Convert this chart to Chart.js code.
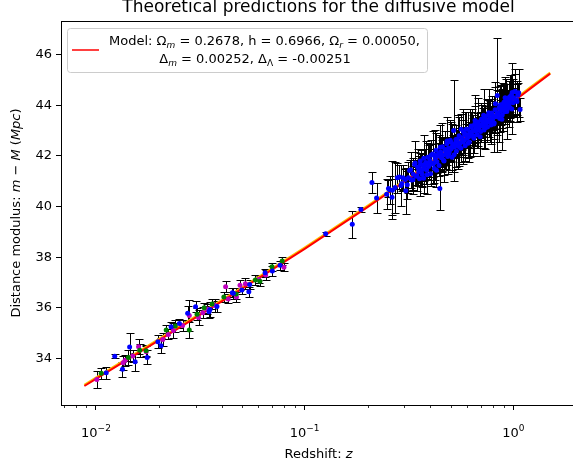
<!DOCTYPE html>
<html>
<head>
<meta charset="utf-8">
<script src="https://cdn.jsdelivr.net/npm/chart.js@4.4.1/dist/chart.umd.min.js"></script>
<style>
html, body { margin: 0; padding: 0; overflow: hidden; background: #fff; }
#wrap { position: relative; width: 576px; height: 465px; }
</style>
</head>
<body>
<div id="wrap"><canvas id="hubble" width="576" height="465"></canvas></div>
<script>
// model curve (red) and reference curve (yellow)
const modelZ  = [0.0088, 0.01, 0.02, 0.03, 0.05, 0.1, 0.2, 0.3, 0.4, 0.5, 0.6, 0.7, 0.8, 0.9, 1.0, 1.2, 1.5];
const modelMu = [32.91, 33.19, 34.71, 35.61, 36.75, 38.33, 39.98, 40.98, 41.71, 42.30, 42.78, 43.19, 43.55, 43.87, 44.15, 44.65, 45.25];
const refMu   = [32.95, 33.23, 34.75, 35.65, 36.79, 38.37, 40.02, 41.02, 41.75, 42.34, 42.82, 43.23, 43.59, 43.91, 44.19, 44.69, 45.29];

// low redshift supernovae, three colour groups
const blueLowZ   = [0.0112, 0.0123, 0.0134, 0.0145, 0.0154, 0.0176, 0.0198, 0.0205, 0.0229, 0.0251, 0.0275, 0.0300, 0.0348, 0.0352, 0.0380, 0.0450, 0.0455, 0.0500, 0.0540, 0.0545, 0.0646, 0.0700, 0.0762];
const blueLowMu  = [33.43, 34.09, 33.57, 34.45, 33.87, 34.04, 34.66, 34.50, 35.25, 35.38, 35.78, 36.04, 35.84, 35.93, 36.05, 36.59, 36.57, 36.70, 36.63, 36.92, 37.38, 37.45, 37.68];
const blueLowErr = [0.25, 0.08, 0.30, 0.55, 0.35, 0.28, 0.25, 0.30, 0.20, 0.18, 0.30, 0.22, 0.25, 0.30, 0.20, 0.18, 0.22, 0.15, 0.20, 0.18, 0.15, 0.20, 0.18];

const greenZ   = [0.0106, 0.0143, 0.0162, 0.0174, 0.0217, 0.0240, 0.0280, 0.0305, 0.0330, 0.0360, 0.0410, 0.0470, 0.0580, 0.0610, 0.0697, 0.0780];
const greenMu  = [33.41, 34.04, 34.32, 34.30, 35.12, 35.28, 35.12, 35.75, 36.00, 36.15, 36.43, 36.55, 37.10, 37.05, 37.62, 37.85];
const greenErr = [0.22, 0.30, 0.25, 0.22, 0.20, 0.25, 0.30, 0.25, 0.20, 0.18, 0.20, 0.22, 0.18, 0.20, 0.16, 0.15];

const magentaZ   = [0.0101, 0.0135, 0.0138, 0.0150, 0.0160, 0.0174, 0.0209, 0.0222, 0.0235, 0.0260, 0.0280, 0.0310, 0.0325, 0.0340, 0.0370, 0.0418, 0.0430, 0.0471, 0.0490, 0.0520, 0.0602, 0.0650, 0.0795];
const magentaMu  = [33.17, 33.83, 33.93, 34.10, 34.46, 34.26, 34.75, 34.95, 35.10, 35.30, 35.70, 35.62, 35.80, 35.95, 36.10, 36.83, 36.35, 36.43, 36.89, 36.95, 37.12, 37.30, 37.60];
const magentaErr = [0.33, 0.28, 0.22, 0.25, 0.30, 0.22, 0.25, 0.20, 0.28, 0.22, 0.60, 0.30, 0.22, 0.20, 0.25, 0.22, 0.18, 0.20, 0.20, 0.22, 0.16, 0.20, 0.16];

// intermediate and high redshift supernovae (blue)
const highZ = [0.126, 0.169, 0.186, 0.210, 0.221, 0.247, 0.252, 0.263, 0.271, 0.284, 0.292, 0.303, 0.310, 0.318, 0.325, 0.331, 0.336, 0.342, 0.348, 0.352,
  0.358, 0.362, 0.368, 0.371, 0.375, 0.380, 0.384, 0.389, 0.392, 0.398, 0.401, 0.405, 0.410, 0.414, 0.418, 0.422, 0.426, 0.430, 0.435, 0.440,
  0.444, 0.448, 0.452, 0.457, 0.461, 0.465, 0.470, 0.475, 0.479, 0.484, 0.489, 0.493, 0.498, 0.503, 0.508, 0.512, 0.517, 0.522, 0.528, 0.533,
  0.538, 0.543, 0.549, 0.554, 0.560, 0.565, 0.570, 0.576, 0.581, 0.587, 0.592, 0.598, 0.604, 0.610, 0.615, 0.621, 0.627, 0.633, 0.640, 0.646,
  0.652, 0.658, 0.664, 0.670, 0.677, 0.683, 0.690, 0.696, 0.703, 0.710, 0.716, 0.723, 0.730, 0.737, 0.744, 0.751, 0.758, 0.765, 0.772, 0.779,
  0.787, 0.794, 0.802, 0.809, 0.817, 0.825, 0.837, 0.845, 0.853, 0.860, 0.868, 0.876, 0.884, 0.892, 0.900, 0.908, 0.916, 0.925, 0.933, 0.942,
  0.950, 0.959, 0.968, 0.977, 0.986, 0.995, 1.005, 1.020, 1.035, 1.050, 1.076];
const highMu = [38.93, 39.30, 39.88, 40.95, 40.34, 40.49, 40.71, 40.64, 40.75, 41.17, 40.91, 41.07, 40.86, 41.42, 41.05, 41.28, 41.66, 41.20, 41.55, 41.38,
  41.80, 41.35, 41.62, 41.12, 41.50, 41.74, 41.43, 41.95, 41.58, 41.82, 41.30, 41.68, 42.08, 41.71, 41.50, 41.89, 42.22, 41.77, 42.00, 41.62,
  40.71, 42.15, 41.93, 42.36, 42.04, 41.80, 42.25, 42.10, 42.48, 41.98, 42.31, 42.16, 42.62, 42.27, 41.95, 42.44, 43.00, 42.35, 42.52, 42.18,
  42.66, 42.41, 42.80, 42.49, 42.30, 42.72, 42.58, 42.95, 42.62, 42.40, 42.85, 42.70, 43.05, 42.76, 42.55, 42.94, 43.18, 42.82, 43.00, 42.70,
  43.25, 42.98, 43.12, 42.84, 43.34, 43.08, 43.22, 42.96, 43.45, 43.18, 43.32, 43.02, 43.52, 43.26, 43.40, 43.14, 43.60, 43.35, 43.48, 43.22,
  43.70, 43.44, 43.58, 43.30, 43.82, 43.55, 44.39, 43.66, 43.90, 43.48, 43.78, 44.02, 43.62, 43.88, 44.12, 43.74, 43.96, 44.20, 43.84, 44.05,
  44.30, 43.92, 44.16, 44.40, 44.51, 44.10, 44.28, 44.54, 44.22, 44.40, 43.83];
const highErr = [0.08, 0.53, 0.10, 0.43, 0.59, 0.60, 0.35, 1.15, 1.00, 0.47, 0.30, 0.40, 0.55, 0.40, 0.45, 0.62, 0.50, 0.35, 0.72, 0.44,
  0.30, 0.52, 0.38, 0.60, 0.45, 0.85, 0.33, 0.55, 0.40, 0.66, 0.48, 0.36, 0.90, 0.42, 0.58, 0.37, 0.70, 0.45, 0.52, 0.40,
  0.85, 0.60, 0.35, 0.95, 0.44, 0.55, 0.38, 0.62, 0.50, 0.70, 0.42, 0.36, 0.80, 0.48, 0.58, 0.40, 2.00, 0.45, 0.52, 0.63,
  0.38, 0.46, 0.75, 0.40, 0.55, 0.44, 0.34, 0.90, 0.50, 0.62, 0.42, 0.36, 0.68, 0.45, 0.80, 0.40, 0.55, 0.38, 0.48, 0.60,
  0.72, 0.42, 0.36, 0.54, 0.95, 0.44, 0.50, 0.40, 0.66, 0.38, 0.58, 0.70, 0.45, 0.40, 0.84, 0.52, 0.60, 0.36, 0.46, 0.75,
  0.55, 0.42, 0.38, 0.62, 0.90, 0.48, 2.25, 0.40, 0.65, 0.55, 0.44, 0.80, 0.50, 0.38, 0.72, 0.46, 0.58, 0.85, 0.42, 0.50,
  0.66, 0.56, 0.44, 0.78, 1.17, 0.52, 0.40, 0.70, 0.62, 0.48, 0.45];

// second, noisier high redshift sample (blue)
const farZ = [0.255, 0.262, 0.278, 0.289, 0.296, 0.305, 0.314, 0.322, 0.330, 0.338, 0.345, 0.351, 0.355, 0.359, 0.363, 0.366, 0.372, 0.378, 0.386, 0.395,
  0.403, 0.412, 0.420, 0.428, 0.438, 0.446, 0.455, 0.463, 0.472, 0.481, 0.490, 0.500, 0.510, 0.520, 0.530, 0.540, 0.551, 0.562, 0.573, 0.584,
  0.595, 0.606, 0.618, 0.630, 0.642, 0.655, 0.668, 0.680, 0.693, 0.706, 0.720, 0.734, 0.748, 0.762, 0.776, 0.790, 0.805, 0.820, 0.835, 0.850,
  0.865, 0.880, 0.895, 0.912, 0.930, 0.948, 0.965, 0.983, 1.000, 1.015, 1.040, 1.060];
const farMu = [40.66, 40.37, 41.14, 40.83, 41.14, 40.62, 41.14, 41.45, 41.06, 41.72, 41.22, 41.52, 41.10, 41.67, 41.45, 41.27, 41.91, 41.66, 41.26, 41.73,
  42.03, 41.68, 42.03, 41.43, 42.09, 42.34, 41.99, 41.83, 42.23, 42.59, 42.09, 42.55, 42.35, 42.05, 42.65, 42.55, 42.35, 43.05, 42.55, 42.85,
  43.05, 42.50, 42.90, 43.15, 42.80, 43.40, 43.01, 43.21, 42.76, 43.41, 43.61, 43.11, 43.36, 43.71, 43.36, 43.66, 43.26, 44.06, 43.71, 43.56,
  44.01, 43.45, 43.95, 44.30, 43.75, 44.05, 44.35, 43.85, 44.30, 44.54, 44.15, 44.50];
const farErr = [0.55, 0.70, 0.60, 0.80, 0.50, 0.90, 0.62, 0.72, 0.55, 0.85, 0.60, 0.48, 0.70, 0.56, 0.64, 0.50, 0.90, 0.62, 0.75, 0.70,
  0.58, 0.80, 1.00, 0.65, 0.72, 0.90, 0.62, 0.85, 0.75, 0.95, 0.66, 0.80, 0.90, 0.70, 0.58, 1.05, 0.74, 0.62, 0.85, 0.90,
  0.70, 0.60, 0.95, 0.72, 0.80, 1.00, 0.68, 0.90, 0.75, 0.62, 1.05, 0.85, 0.72, 0.95, 0.80, 0.70, 1.10, 0.85, 0.90, 1.00,
  0.75, 1.20, 0.95, 0.80, 1.10, 0.90, 0.85, 1.00, 0.75, 0.90, 0.80, 0.95];

const xMajor = [0.01, 0.1, 1];
const xMajorExp = ['\u22122', '\u22121', '0'];
const yTicks = [34, 36, 38, 40, 42, 44, 46];

const FONT = '"DejaVu Sans", sans-serif';
Chart.defaults.font.family = FONT;
Chart.defaults.font.size = 13;
Chart.defaults.color = '#000';

const pts = (xs, ys) => xs.map((v, i) => ({ x: v, y: ys[i] }));

// draw text made of normal / italic / subscript / superscript pieces
function fontOf(p, size) {
  return (p.it ? 'italic ' : '') + ((p.sub || p.sup) ? Math.round(size * 0.7) : size) + 'px ' + FONT;
}
function richText(ctx, parts, x, y, size) {
  let w = 0;
  parts.forEach(p => { ctx.font = fontOf(p, size); w += ctx.measureText(p.t).width; });
  let cx = x - w / 2;
  parts.forEach(p => {
    ctx.font = fontOf(p, size);
    const dy = p.sub ? size * 0.25 : (p.sup ? -size * 0.5 : 0);
    ctx.fillText(p.t, cx, y + dy);
    cx += ctx.measureText(p.t).width;
  });
}

const errorBars = {
  id: 'errorBars',
  beforeDatasetsDraw(chart) {
    const { ctx, chartArea: a, scales: { x, y } } = chart;
    ctx.save();
    ctx.beginPath();
    ctx.rect(a.left, a.top, a.right - a.left, a.bottom - a.top);
    ctx.clip();
    ctx.strokeStyle = '#000';
    ctx.lineWidth = 1;
    chart.data.datasets.forEach(ds => {
      if (!ds.err) return;
      ds.data.forEach((p, i) => {
        const px = Math.round(x.getPixelForValue(p.x)) + 0.5;
        const y1 = Math.round(y.getPixelForValue(p.y - ds.err[i])) + 0.5;
        const y2 = Math.round(y.getPixelForValue(p.y + ds.err[i])) + 0.5;
        ctx.beginPath();
        ctx.moveTo(px, y1); ctx.lineTo(px, y2);
        ctx.moveTo(px - 4, y1); ctx.lineTo(px + 4, y1);
        ctx.moveTo(px - 4, y2); ctx.lineTo(px + 4, y2);
        ctx.stroke();
      });
    });
    ctx.restore();
  }
};

const decorations = {
  id: 'decorations',
  afterDraw(chart) {
    const { ctx, chartArea: a, scales: { x } } = chart;
    ctx.save();
    // minor log ticks
    ctx.strokeStyle = '#000';
    ctx.lineWidth = 0.8;
    for (let d = -3; d <= 0; d++) {
      for (let k = 2; k <= 9; k++) {
        const v = k * Math.pow(10, d);
        if (v < x.min || v > x.max) continue;
        const px = Math.round(x.getPixelForValue(v)) + 0.5;
        ctx.beginPath(); ctx.moveTo(px, a.bottom); ctx.lineTo(px, a.bottom + 3); ctx.stroke();
      }
    }
    // spines
    ctx.lineWidth = 1;
    ctx.strokeRect(a.left + 0.5, a.top + 0.5, a.right - a.left, a.bottom - a.top);

    ctx.fillStyle = '#000';
    ctx.textBaseline = 'alphabetic';
    ctx.textAlign = 'left';

    // x tick labels with superscript exponents
    xMajor.forEach((v, i) => {
      richText(ctx, [{ t: '10' }, { t: xMajorExp[i], sup: true }], x.getPixelForValue(v), 437, 13);
    });

    // title (cropped at the top like the picture)
    ctx.font = '17px ' + FONT;
    ctx.textAlign = 'center';
    ctx.fillText('Theoretical predictions for the diffusive model', 318.5, 12);
    ctx.textAlign = 'left';

    // axis titles
    richText(ctx, [{ t: 'Redshift: ' }, { t: 'z', it: true }], 318.5, 458, 13);
    ctx.save();
    ctx.translate(20, 213);
    ctx.rotate(-Math.PI / 2);
    richText(ctx, [{ t: 'Distance modulus: ' }, { t: 'm', it: true }, { t: ' \u2212 ' }, { t: 'M', it: true },
      { t: ' (' }, { t: 'Mpc', it: true }, { t: ')' }], 0, 0, 13);
    ctx.restore();

    // legend box
    ctx.fillStyle = 'rgba(255,255,255,0.8)';
    ctx.strokeStyle = '#cccccc';
    ctx.beginPath();
    ctx.roundRect(67.5, 28.5, 360, 44, 3);
    ctx.fill(); ctx.stroke();
    ctx.strokeStyle = '#ff0000';
    ctx.lineWidth = 1.5;
    ctx.beginPath(); ctx.moveTo(72, 50); ctx.lineTo(99, 50); ctx.stroke();
    ctx.fillStyle = '#000';
    richText(ctx, [{ t: 'Model: \u03A9' }, { t: 'm', sub: true, it: true }, { t: ' = 0.2678, h = 0.6966, \u03A9' },
      { t: 'r', sub: true, it: true }, { t: ' = 0.00050,' }], 264.5, 45, 13);
    richText(ctx, [{ t: '\u0394' }, { t: 'm', sub: true, it: true }, { t: ' = 0.00252, \u0394' },
      { t: '\u039B', sub: true }, { t: ' = -0.00251' }], 255, 62.5, 13);
    ctx.restore();
  }
};

const pointStyle = (color) => ({
  showLine: false, pointRadius: 2.5, pointHoverRadius: 2.5,
  pointBackgroundColor: color, pointBorderColor: color, pointBorderWidth: 0
});

new Chart(document.getElementById('hubble'), {
  type: 'scatter',
  data: {
    datasets: [
      { label: 'high z', data: pts(highZ, highMu), err: highErr, order: 1, ...pointStyle('#0000ff') },
      { label: 'far', data: pts(farZ, farMu), err: farErr, order: 1, ...pointStyle('#0000ff') },
      { label: 'blue', data: pts(blueLowZ, blueLowMu), err: blueLowErr, order: 1, ...pointStyle('#0000ff') },
      { label: 'green', data: pts(greenZ, greenMu), err: greenErr, order: 1, ...pointStyle('#008000') },
      { label: 'magenta', data: pts(magentaZ, magentaMu), err: magentaErr, order: 1, ...pointStyle('#bf00bf') },
      { label: 'Model', data: pts(modelZ, modelMu), showLine: true, pointRadius: 0, borderColor: '#ff0000', borderWidth: 2, order: 2 },
      { label: 'reference', data: pts(modelZ, refMu), showLine: true, pointRadius: 0, borderColor: '#ffbf00', borderWidth: 2.5, order: 3 }
    ]
  },
  options: {
    responsive: false,
    animation: false,
    layout: { padding: { top: 21, left: 0, right: 0, bottom: 0 } },
    plugins: { legend: { display: false }, tooltip: { enabled: false } },
    scales: {
      x: {
        type: 'logarithmic',
        min: 0.0068,
        max: 1.94,
        afterBuildTicks: (s) => { s.ticks = xMajor.map(v => ({ value: v })); },
        afterFit: (s) => { s.height = 60; },
        ticks: { display: false },
        grid: { drawOnChartArea: false, drawTicks: true, tickLength: 5, tickColor: '#000', tickWidth: 1 },
        border: { display: false }
      },
      y: {
        min: 32.16,
        max: 47.33,
        afterBuildTicks: (s) => { s.ticks = yTicks.map(v => ({ value: v })); },
        afterFit: (s) => { s.width = 61; },
        ticks: { padding: 4, callback: (v) => String(v) },
        grid: { drawOnChartArea: false, drawTicks: true, tickLength: 5, tickColor: '#000', tickWidth: 1 },
        border: { display: false }
      }
    }
  },
  plugins: [errorBars, decorations]
});
</script>
</body>
</html>
